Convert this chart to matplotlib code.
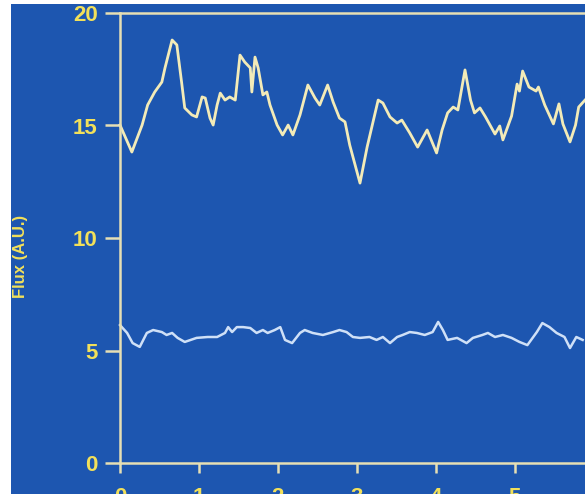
## Flux time series, two traces on blue background
import matplotlib.pyplot as plt
from matplotlib.patches import Rectangle

# upper trace (time, flux)
t_upper = [0.00, 0.15, 0.28, 0.35, 0.44, 0.53, 0.57, 0.66, 0.72, 0.78, 0.82, 0.91, 0.97,
           1.04, 1.08, 1.14, 1.18, 1.23, 1.27, 1.33, 1.39, 1.46, 1.52, 1.58, 1.65, 1.67,
           1.71, 1.75, 1.81, 1.86, 1.90, 1.99, 2.06, 2.13, 2.19, 2.28, 2.38, 2.47, 2.53,
           2.63, 2.70, 2.78, 2.85, 2.91, 3.04, 3.13, 3.27, 3.33, 3.42, 3.51, 3.57, 3.67,
           3.77, 3.89, 4.01, 4.08, 4.15, 4.22, 4.28, 4.37, 4.44, 4.49, 4.56, 4.63, 4.75,
           4.81, 4.85, 4.96, 5.03, 5.06, 5.10, 5.18, 5.27, 5.30, 5.38, 5.49, 5.56, 5.61,
           5.70, 5.77, 5.81, 5.89]
flux_upper = [15.02, 13.82, 15.02, 15.91, 16.49, 16.93, 17.56, 18.80, 18.58, 16.93, 15.78,
              15.47, 15.38, 16.27, 16.22, 15.33, 15.02, 15.91, 16.44, 16.13, 16.27, 16.13,
              18.13, 17.82, 17.56, 16.49, 18.04, 17.56, 16.36, 16.49, 15.91, 15.02, 14.58,
              15.02, 14.58, 15.47, 16.80, 16.22, 15.91, 16.80, 16.04, 15.33, 15.16, 14.13,
              12.44, 14.04, 16.13, 16.00, 15.38, 15.11, 15.24, 14.67, 14.04, 14.80, 13.78,
              14.80, 15.56, 15.82, 15.69, 17.47, 16.13, 15.56, 15.78, 15.38, 14.62, 14.98,
              14.36, 15.42, 16.84, 16.53, 17.42, 16.71, 16.53, 16.71, 15.91, 15.07, 15.96,
              15.07, 14.27, 15.02, 15.82, 16.13]

# lower trace (time, flux)
t_lower = [0.00, 0.09, 0.16, 0.25, 0.34, 0.42, 0.53, 0.59, 0.66, 0.73, 0.82, 0.97, 1.11,
           1.23, 1.33, 1.37, 1.42, 1.48, 1.56, 1.65, 1.73, 1.81, 1.87, 1.96, 2.03, 2.09,
           2.18, 2.28, 2.34, 2.44, 2.57, 2.70, 2.78, 2.87, 2.95, 3.04, 3.16, 3.25, 3.33,
           3.42, 3.51, 3.58, 3.67, 3.76, 3.86, 3.96, 4.03, 4.09, 4.15, 4.27, 4.39, 4.47,
           4.59, 4.66, 4.75, 4.85, 4.96, 5.06, 5.16, 5.28, 5.35, 5.44, 5.53, 5.63, 5.70,
           5.78, 5.86]
flux_lower = [6.13, 5.78, 5.33, 5.16, 5.78, 5.91, 5.82, 5.69, 5.78, 5.56, 5.38, 5.56, 5.60,
              5.60, 5.78, 6.04, 5.82, 6.04, 6.04, 6.00, 5.78, 5.91, 5.78, 5.91, 6.04, 5.47,
              5.33, 5.78, 5.91, 5.78, 5.69, 5.82, 5.91, 5.82, 5.60, 5.56, 5.60, 5.47, 5.60,
              5.33, 5.60, 5.69, 5.82, 5.78, 5.69, 5.82, 6.27, 5.91, 5.47, 5.56, 5.33, 5.56,
              5.69, 5.78, 5.60, 5.69, 5.56, 5.38, 5.24, 5.82, 6.22, 6.04, 5.78, 5.60, 5.11,
              5.60, 5.47]

x_ticks = [0, 1, 2, 3, 4, 5]
y_ticks = [0, 5, 10, 15, 20]

bg = '#1d56b0'
axis_col = '#e6dfb4'
text_col = '#f2e05a'

plt.rcParams['font.family'] = ['Liberation Sans', 'DejaVu Sans']
plt.rcParams['font.weight'] = 'bold'

fig = plt.figure(figsize=(5.85, 4.94), dpi=100, facecolor='white')
# blue panel with a thin white margin on the left and top
fig.patches.append(Rectangle((11/585, 0), 1, 1 - 4/494, transform=fig.transFigure,
                             facecolor=bg, edgecolor='none', zorder=-10))

ax = fig.add_axes([120/585, 31/494, 465/585, 450/494])
ax.set_facecolor(bg)
ax.plot(t_upper, flux_upper, color='#f3ebb8', lw=2.0, clip_on=False)
ax.plot(t_lower, flux_lower, color='#cfe0f7', lw=1.8, clip_on=False)

ax.set_xlim(0, 5.89)
ax.set_ylim(0, 20)
ax.set_xticks(x_ticks)
ax.set_yticks(y_ticks)

for side in ['left', 'top', 'bottom']:
    ax.spines[side].set_color(axis_col)
    ax.spines[side].set_linewidth(1.8)
ax.spines['right'].set_visible(False)

ax.tick_params(axis='y', direction='out', length=11, width=1.8, color=axis_col,
               labelcolor=text_col, labelsize=16, pad=5)
ax.tick_params(axis='x', direction='out', length=7, width=1.8, color=axis_col,
               labelcolor=text_col, labelsize=16, pad=10)
for lab in ax.get_xticklabels() + ax.get_yticklabels():
    lab.set_fontweight('bold')

ax.set_ylabel('Flux (A.U.)', color=text_col, fontsize=12, fontweight='bold')
ax.yaxis.set_label_coords(-0.198, 0.458)

plt.savefig('out.png', dpi=100, facecolor='white')
